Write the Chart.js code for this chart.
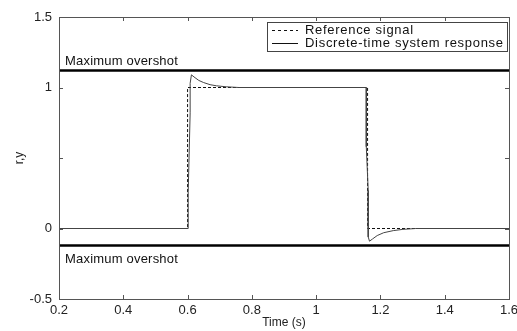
<!DOCTYPE html>
<html>
<head>
<meta charset="utf-8">
<script src="https://cdn.jsdelivr.net/npm/chart.js@4"></script>
<style>
  html, body { margin: 0; padding: 0; background: #fff; }
  #wrap { width: 517px; height: 331px; }
</style>
</head>
<body>
<div id="wrap"><canvas id="stepChart"></canvas></div>
<script>
// reference signal (dashed)
const refTime = [0.2, 0.6, 0.6, 1.16, 1.16, 1.6];
const refValue = [0, 0, 1, 1, 0, 0];

// discrete-time system response (solid)
const respTime = [0.2, 0.602, 0.602, 0.608, 0.608, 0.612, 0.62, 0.635, 0.65, 0.67, 0.69, 0.72, 0.76,
                  1.156, 1.156, 1.162, 1.162, 1.166, 1.175, 1.19, 1.21, 1.24, 1.27, 1.31, 1.6];
const respValue = [0, 0, 0.26, 0.82, 1.03, 1.09, 1.075, 1.05, 1.035, 1.02, 1.012, 1.005, 1.0,
                   1.0, 0.58, 0.27, -0.06, -0.09, -0.075, -0.05, -0.03, -0.015, -0.006, 0, 0];

// overshoot limits
const overshootHigh = 1.12;
const overshootLow = -0.12;
const limitLabel = "Maximum overshot";

const xTicks = [0.2, 0.4, 0.6, 0.8, 1, 1.2, 1.4, 1.6];
const yTicks = [-0.5, 0, 0.5, 1, 1.5];
const yLabelsShown = ["-0.5", "0", "1", "1.5"];

const legendLabels = ["Reference signal", "Discrete-time system response"];

function pts(xs, ys) {
    return xs.map((x, i) => ({ x: x, y: ys[i] }));
}

const FONT = "'Liberation Sans', Arial, sans-serif";

const matlabAxes = {
    id: "matlabAxes",
    afterDraw(chart) {
        const ctx = chart.ctx;
        const a = chart.chartArea;
        const xs = chart.scales.x, ys = chart.scales.y;
        ctx.save();

        // overshoot captions
        ctx.fillStyle = "#111";
        ctx.font = "13px " + FONT;
        ctx.textBaseline = "middle";
        ctx.textAlign = "left";
        ctx.letterSpacing = "0.2px";
        ctx.fillText(limitLabel, a.left + 6, ys.getPixelForValue(overshootHigh) - 9);
        ctx.fillText(limitLabel, a.left + 6, ys.getPixelForValue(overshootLow) + 14);

        // box
        ctx.strokeStyle = "#555";
        ctx.lineWidth = 1;
        ctx.strokeRect(Math.round(a.left) + 0.5, Math.round(a.top) + 0.5,
                       Math.round(a.right - a.left), Math.round(a.bottom - a.top));

        // inward ticks on all sides
        ctx.beginPath();
        xTicks.forEach(v => {
            const px = Math.round(xs.getPixelForValue(v)) + 0.5;
            ctx.moveTo(px, a.bottom); ctx.lineTo(px, a.bottom - 4);
            ctx.moveTo(px, a.top); ctx.lineTo(px, a.top + 4);
        });
        yTicks.forEach(v => {
            const py = Math.round(ys.getPixelForValue(v)) + 0.5;
            ctx.moveTo(a.left, py); ctx.lineTo(a.left + 4, py);
            ctx.moveTo(a.right, py); ctx.lineTo(a.right - 4, py);
        });
        ctx.stroke();

        // legend box
        const lx = 267, ly = 22, lw = 240, lh = 29;
        ctx.fillStyle = "#fff";
        ctx.fillRect(lx, ly, lw, lh);
        ctx.strokeStyle = "#444";
        ctx.strokeRect(lx + 0.5, ly + 0.5, lw, lh);
        ctx.strokeStyle = "#111";
        ctx.setLineDash([3, 3]);
        ctx.beginPath();
        ctx.moveTo(272, ly + 8.5); ctx.lineTo(298, ly + 8.5);
        ctx.stroke();
        ctx.setLineDash([]);
        ctx.beginPath();
        ctx.moveTo(272, ly + 21.5); ctx.lineTo(298, ly + 21.5);
        ctx.stroke();
        ctx.fillStyle = "#111";
        ctx.font = "13px " + FONT;
        ctx.letterSpacing = "0.7px";
        ctx.fillText(legendLabels[0], 305, ly + 8);
        ctx.fillText(legendLabels[1], 305, ly + 21);
        ctx.restore();
    }
};

new Chart(document.getElementById("stepChart"), {
    type: "scatter",
    data: {
        datasets: [{
            label: "Maximum overshot high",
            data: pts([0.2, 1.6], [overshootHigh, overshootHigh]),
            showLine: true, borderColor: "#000", borderWidth: 2.5, pointRadius: 0
        }, {
            label: "Maximum overshot low",
            data: pts([0.2, 1.6], [overshootLow, overshootLow]),
            showLine: true, borderColor: "#000", borderWidth: 2.5, pointRadius: 0
        }, {
            label: legendLabels[1],
            data: pts(respTime, respValue),
            showLine: true, borderColor: "#444", borderWidth: 1, pointRadius: 0, tension: 0
        }, {
            label: legendLabels[0],
            data: pts(refTime, refValue),
            showLine: true, borderColor: "#111", borderWidth: 1, borderDash: [3, 2],
            pointRadius: 0, tension: 0
        }]
    },
    options: {
        responsive: true,
        maintainAspectRatio: false,
        animation: false,
        layout: { padding: { top: 17, right: 8, left: 0, bottom: 0 } },
        plugins: { legend: { display: false }, tooltip: { enabled: false } },
        scales: {
            x: {
                type: "linear", min: 0.2, max: 1.6,
                afterBuildTicks: s => { s.ticks = xTicks.map(v => ({ value: v })); },
                afterFit: s => { s.height = 32; s.paddingLeft = 0; s.paddingRight = 0; },
                ticks: {
                    color: "#222", font: { family: FONT, size: 13 }, padding: 4,
                    maxRotation: 0, autoSkip: false,
                    callback: v => String(Math.round(v * 10) / 10)
                },
                grid: { display: false, drawTicks: false },
                border: { display: false },
                title: { display: true, text: "Time (s)", color: "#222",
                         font: { family: FONT, size: 12 }, padding: { top: 0, bottom: 1 } }
            },
            y: {
                type: "linear", min: -0.5, max: 1.5,
                afterBuildTicks: s => { s.ticks = yTicks.map(v => ({ value: v })); },
                afterFit: s => { s.width = 59; s.paddingTop = 0; s.paddingBottom = 0; },
                ticks: {
                    color: "#222", font: { family: FONT, size: 13 }, padding: 7,
                    autoSkip: false,
                    callback: v => {
                        const t = String(Math.round(v * 10) / 10);
                        return yLabelsShown.includes(t) ? t : "";
                    }
                },
                grid: { display: false, drawTicks: false },
                border: { display: false },
                title: { display: true, text: "r,y", color: "#222",
                         font: { family: FONT, size: 12 }, padding: { top: 12, bottom: 0 } }
            }
        }
    },
    plugins: [matlabAxes]
});
</script>
</body>
</html>
